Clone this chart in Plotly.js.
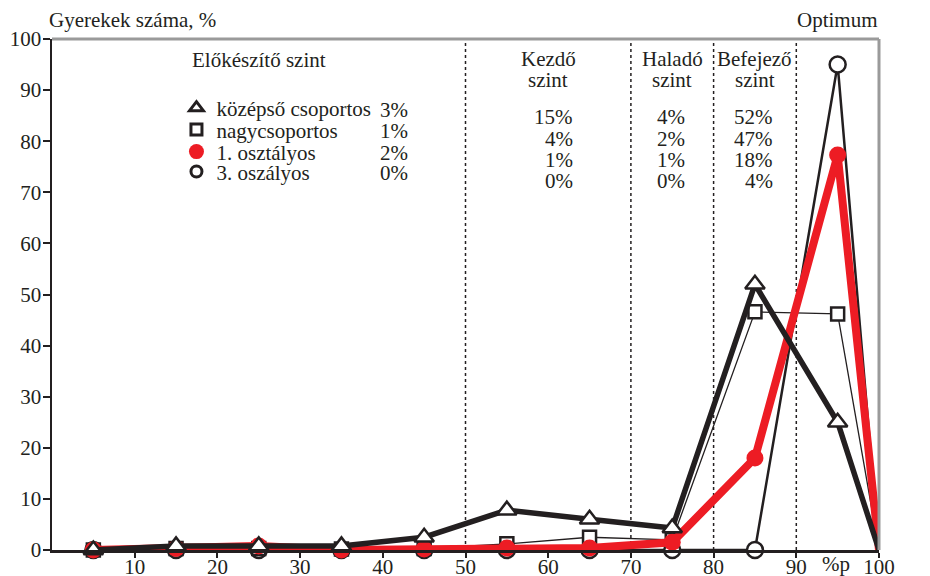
<!DOCTYPE html>
<html><head><meta charset="utf-8">
<script src="https://cdn.plot.ly/plotly-3.0.1.min.js"></script>
<style>body{margin:0;background:#fff}#c{width:930px;height:576px}</style>
</head><body><div id="c"></div>
<script>
// x positions (%p) of the points
const xs = [5, 15, 25, 35, 45, 55, 65, 75, 85, 95, 100];
// Gyerekek száma, %
const kozepso   = [0, 0.8, 0.8, 0.8, 2.5, 7.8, 6.0, 4.3, 52, 25, 0];
const nagycs    = [0, 0.3, 0.3, 0.2, 0.3, 1.2, 2.5, 2.0, 46.6, 46.2, 0];
const osztaly1  = [0, 0.3, 0.8, 0.0, 0.2, 0.4, 0.4, 1.5, 18, 77.3, 0];
const osztaly3  = [0, 0, 0, 0, 0, 0, 0, 0, 0, 95, 0];
const seriesNames = ["középső csoportos", "nagycsoportos", "1. osztályos", "3. oszályos"];
// level headers (two lines each) and percentages per level
const levelLine1 = ["Előkészítő szint", "Kezdő", "Haladó", "Befejező"];
const levelLine2 = ["", "szint", "szint", "szint"];
const pctKozepso  = [3, 15, 4, 52, 25];
const pctNagycs   = [1, 4, 2, 47, 46];
const pctOszt1    = [2, 1, 1, 18, 78];
const pctOszt3    = [0, 0, 0, 4, 96];
const levelBounds = [50, 70, 80, 90];
const xTicks = [10, 20, 30, 40, 50, 60, 70, 80, 90, 100];
const yTicks = [0, 10, 20, 30, 40, 50, 60, 70, 80, 90, 100];

const F = "Liberation Serif, Times New Roman, serif";
const FS = 21;
const INK = '#231f20';
const sz = (s) => xs.map(x => x === 100 ? 0 : s);

const styles = [
  {line:{color:INK,width:5.5}, marker:{symbol:'triangle-up',size:17,color:'#fff',opacity:1,line:{color:INK,width:2.5}}, legM:{symbol:'triangle-up',size:12,color:'#fff',line:{color:INK,width:3}}},
  {line:{color:INK,width:1.3}, marker:{symbol:'square',size:13,color:'#fff',opacity:1,line:{color:INK,width:2.5}}, legM:{symbol:'square',size:11,color:'#fff',line:{color:INK,width:3}}},
  {line:{color:'#ed1c24',width:8}, marker:{symbol:'circle',size:17,color:'#ed1c24',opacity:1,line:{width:0}}, legM:{symbol:'circle',size:15,color:'#ed1c24',line:{width:0}}},
  {line:{color:INK,width:2.5}, marker:{symbol:'circle',size:16,color:'#fff',opacity:1,line:{color:INK,width:2.5}}, legM:{symbol:'circle',size:11,color:'#fff',line:{color:INK,width:3}}}
];
const ys = [kozepso, nagycs, osztaly1, osztaly3];
const legendIds = ['legend', 'legend2', 'legend3', 'legend4'];

const traces = [];
// legend-only entries (markers only), each in its own legend box
seriesNames.forEach((n, i) => traces.push({x:[null], y:[null], type:'scatter', mode:'markers', name:n, legend:legendIds[i], marker:styles[i].legM, showlegend:true, hoverinfo:'skip'}));
// data traces: draw order 3., nagy, 1., középső
[3, 1, 2, 0].forEach(i => {
  const s = styles[i];
  const m = Object.assign({}, s.marker, {size: sz(s.marker.size)});
  traces.push({x: xs, y: ys[i], type:'scatter', mode:'lines+markers', name: seriesNames[i], showlegend:false, line: s.line, marker: m, cliponaxis:false});
});

const shapes = levelBounds.map(b => ({type:'line', xref:'x', yref:'y', x0:b, x1:b, y0:0, y1:100, line:{color:INK, width:1.5, dash:'dot'}, layer:'below'}));
shapes.push({type:'line', xref:'paper', yref:'paper', x0:0, x1:1, y0:1, y1:1, line:{color:'#9a9a9a', width:3}});
shapes.push({type:'line', xref:'paper', yref:'paper', x0:1, x1:1, y0:0, y1:1, line:{color:'#9a9a9a', width:3}});

const ann = [];
const fnt = {family:F, size:FS, color:INK};
const A = (text, x, y, xa) => ann.push({text, x, y, xref:'x', yref:'y', xanchor:xa || 'center', yanchor:'middle', showarrow:false, font:fnt});
ann.push({text:'Gyerekek száma, %', xref:'paper', yref:'paper', x:-0.006, y:1.038, xanchor:'left', yanchor:'middle', showarrow:false, font:fnt});
ann.push({text:'Optimum', xref:'x', yref:'paper', x:95, y:1.038, xanchor:'center', yanchor:'middle', showarrow:false, font:fnt});
ann.push({text:'%p', xref:'x', yref:'paper', x:94.8, y:-0.028, xanchor:'center', yanchor:'middle', showarrow:false, font:fnt});
// level headers
const headX = [25, 60, 75, 85];
for (let k = 0; k < 4; k++) {
  A(levelLine1[k], headX[k], k === 0 ? 95.9 : 96.1);
  if (levelLine2[k]) A(levelLine2[k], headX[k], 92.0);
}
// percentages columns
const pctCols = [pctKozepso, pctNagycs, pctOszt1, pctOszt3];
const colX = [43.3, 63.3, 76.8, 87.4, 106.2];
const rowYLeft = [86.2, 81.9, 77.6, 73.7];
const rowYRight = [84.8, 80.5, 76.4, 72.3];
pctCols.forEach((arr, r) => arr.forEach((v, c) => A(v + '%', colX[c], c === 0 ? rowYLeft[r] : rowYRight[r], 'right')));

const legBase = {x:0.1505, xanchor:'left', yanchor:'middle', bgcolor:'rgba(0,0,0,0)', font:fnt, itemwidth:30};
const layout = {
  width:930, height:576,
  margin:{l:52, r:51, t:39, b:26},
  paper_bgcolor:'#fff', plot_bgcolor:'#fff',
  font:fnt,
  showlegend:true,
  legend:  Object.assign({}, legBase, {y:0.865}),
  legend2: Object.assign({}, legBase, {y:0.822}),
  legend3: Object.assign({}, legBase, {y:0.779}),
  legend4: Object.assign({}, legBase, {y:0.740}),
  xaxis:{range:[0,100], tickvals:xTicks, ticktext:xTicks.map(String), ticks:'outside', ticklen:5, tickwidth:2, tickcolor:INK, ticklabelstandoff:-9, showline:true, linecolor:INK, linewidth:2.5, showgrid:false, zeroline:false, fixedrange:true, tickfont:fnt},
  yaxis:{range:[0,100], tickvals:yTicks, ticktext:yTicks.map(String), ticks:'outside', ticklen:7, tickwidth:2, tickcolor:INK, ticklabelstandoff:-3, showline:true, linecolor:INK, linewidth:2.5, showgrid:false, zeroline:false, fixedrange:true, tickfont:fnt},
  shapes, annotations: ann
};
Plotly.newPlot('c', traces, layout, {displayModeBar:false, staticPlot:true});
</script></body></html>
